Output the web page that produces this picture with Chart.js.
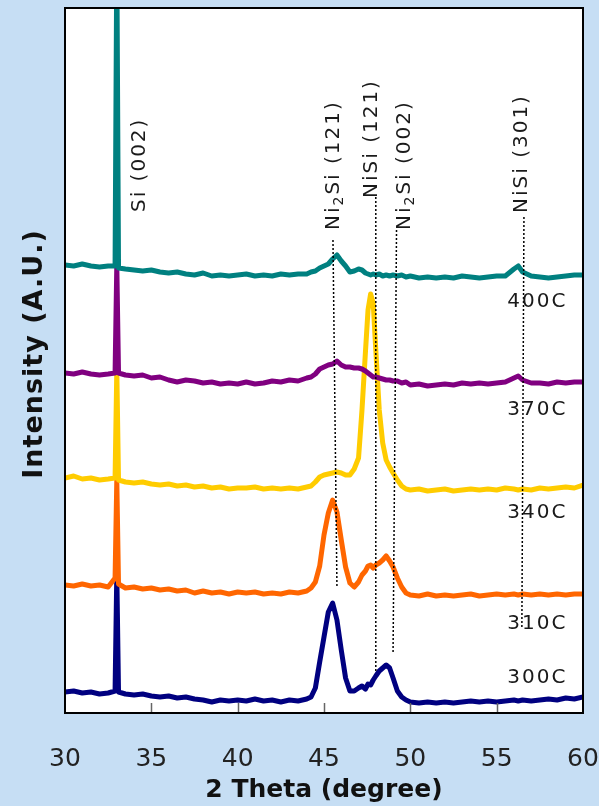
<!DOCTYPE html>
<html>
<head>
<meta charset="utf-8">
<script src="https://cdn.jsdelivr.net/npm/chart.js@4.4.1/dist/chart.umd.min.js"></script>
<style>
  html, body { margin: 0; padding: 0; background: #c6def4; }
  #wrap { width: 599px; height: 806px; position: relative; }
</style>
</head>
<body>
<div id="wrap"><canvas id="js--xrd"></canvas></div>
<script>
// 2 theta grid (degrees), shared by all scans
const theta = [30, 30.5, 31, 31.5, 32, 32.5, 32.9, 33, 33.1, 33.5, 34, 34.5, 35, 35.5, 36, 36.5, 37, 37.5, 38, 38.5,
  39, 39.5, 40, 40.5, 41, 41.5, 42, 42.5, 43, 43.5, 44, 44.25, 44.5, 44.75, 45, 45.25, 45.5, 45.75, 46, 46.25,
  46.5, 46.75, 47, 47.2, 47.4, 47.55, 47.7, 47.85, 48, 48.2, 48.4, 48.6, 48.8, 49, 49.25, 49.5, 49.75, 50, 50.5, 51,
  51.5, 52, 52.5, 53, 53.5, 54, 54.5, 55, 55.5, 56, 56.25, 56.5, 57, 57.5, 58, 58.5, 59, 59.5, 60];

// intensity (A.U., offset stacked)
const int300 = [21, 22, 20, 21, 19, 20, 22, 140, 21, 19, 18, 19, 17, 16, 17, 15, 16, 14, 13, 11,
  13, 12, 13, 12, 14, 12, 13, 11, 13, 12, 14, 16, 25, 51, 76, 101, 110, 93, 63, 35,
  22, 22, 25, 27, 24, 29, 28, 33, 37, 42, 45, 48, 45, 35, 22, 16, 13, 11, 10, 11,
  10, 11, 10, 11, 12, 11, 12, 11, 12, 13, 12, 13, 12, 13, 14, 13, 15, 14, 16];
const int310 = [128, 127, 129, 127, 128, 126, 135, 233, 129, 125, 126, 124, 125, 123, 124, 122, 123, 120, 122, 120,
  121, 119, 121, 120, 121, 119, 120, 119, 121, 120, 122, 125, 131, 147, 178, 200, 213, 201, 173, 146,
  130, 126, 131, 138, 142, 147, 148, 145, 148, 150, 153, 157, 152, 146, 135, 126, 120, 118, 117, 119,
  117, 118, 117, 118, 119, 117, 118, 119, 118, 119, 118, 119, 118, 119, 118, 119, 118, 119, 119];
const int340 = [235, 237, 234, 235, 233, 234, 235, 343, 233, 231, 230, 231, 229, 228, 229, 227, 228, 226, 227, 225,
  226, 224, 225, 225, 226, 224, 225, 224, 225, 224, 226, 227, 231, 236, 238, 239, 240, 241, 240, 238,
  238, 244, 255, 303, 361, 403, 419, 410, 363, 303, 270, 253, 246, 240, 233, 227, 224, 223, 224, 222,
  223, 224, 222, 223, 224, 223, 224, 223, 225, 224, 223, 224, 223, 225, 224, 225, 226, 225, 228];
const int370 = [340, 339, 341, 339, 338, 339, 340, 448, 340, 338, 337, 338, 335, 336, 333, 331, 333, 332, 330, 331,
  329, 330, 329, 331, 329, 330, 332, 331, 333, 332, 335, 336, 339, 344, 346, 348, 349, 352, 348, 346,
  346, 345, 345, 344, 342, 340, 338, 336, 336, 335, 334, 333, 333, 332, 332, 330, 331, 328, 329, 327,
  328, 329, 328, 330, 329, 330, 329, 330, 331, 335, 337, 333, 330, 330, 329, 331, 330, 331, 331];
const int400 = [448, 447, 449, 447, 446, 447, 447, 760, 445, 444, 443, 442, 443, 441, 440, 441, 439, 438, 440, 437,
  438, 437, 438, 439, 437, 438, 437, 439, 438, 439, 439, 441, 442, 445, 447, 449, 454, 458, 452, 447,
  441, 442, 444, 443, 440, 439, 438, 439, 438, 439, 437, 438, 437, 438, 437, 438, 436, 437, 435, 436,
  435, 436, 435, 437, 436, 435, 436, 437, 437, 444, 447, 441, 437, 436, 435, 436, 437, 438, 438];

const tempLabels = ['300C', '310C', '340C', '370C', '400C'];
const tempLabelY = [38, 92, 203, 306, 414];

// reference peak lines: [theta at top, theta at bottom], intensity top / bottom
const refTheta = [[45.52, 45.75], [48.0, 48.0], [49.2, 49.0], [56.58, 56.46]];
const refTop = [473, 516, 483, 496];
const refBottom = [126, 40, 61, 86];

// peak names, drawn vertically
const peakNames = [
  [{ t: 'Si (002)' }],
  [{ t: 'Ni' }, { t: '2', sub: true }, { t: 'Si (121)' }],
  [{ t: 'NiSi (121)' }],
  [{ t: 'Ni' }, { t: '2', sub: true }, { t: 'Si (002)' }],
  [{ t: 'NiSi (301)' }]
];
const peakNameTheta = [34.23, 45.46, 47.66, 49.57, 56.35];
const peakNameY = [501, 483, 515, 483, 500];

const FONT = "'DejaVu Sans', sans-serif";

function toPoints(ys) {
  return theta.map((t, i) => ({ x: t, y: ys[i] }));
}

const scans = [int400, int370, int340, int310, int300];
const scanColors = ['#008080', '#800080', '#ffcc00', '#ff6600', '#000080'];

const datasets = [];
refTheta.forEach((tt, i) => {
  datasets.push({
    data: [{ x: tt[0], y: refTop[i] }, { x: tt[1], y: refBottom[i] }],
    borderColor: '#000',
    borderWidth: 1.5,
    borderDash: [2, 2],
    pointRadius: 0
  });
});
scans.forEach((s, i) => {
  datasets.push({
    data: toPoints(s),
    borderColor: scanColors[i],
    borderWidth: 5,
    borderJoinStyle: 'round',
    borderCapStyle: 'round',
    pointRadius: 0,
    tension: 0
  });
});

const framePlugin = {
  id: 'frame',
  beforeDatasetsDraw(chart) {
    const { ctx, chartArea: a } = chart;
    ctx.save();
    ctx.fillStyle = '#ffffff';
    ctx.fillRect(a.left, a.top, a.right - a.left, a.bottom - a.top);
    ctx.restore();
  },
  afterDatasetsDraw(chart) {
    const { ctx, chartArea: a } = chart;
    const xs = chart.scales.x;
    const ys = chart.scales.y;

    // inward ticks
    ctx.save();
    ctx.strokeStyle = '#666';
    ctx.lineWidth = 1.5;
    xs.ticks.forEach(t => {
      if (t.value <= 30 || t.value >= 60) return;
      const px = Math.round(xs.getPixelForValue(t.value)) + 0.5;
      ctx.beginPath();
      ctx.moveTo(px, a.bottom);
      ctx.lineTo(px, a.bottom - 10);
      ctx.stroke();
    });
    // frame
    ctx.strokeStyle = '#000';
    ctx.lineWidth = 2;
    ctx.strokeRect(a.left, a.top, a.right - a.left, a.bottom - a.top);
    ctx.restore();

    ctx.save();
    ctx.fillStyle = '#1a1a1a';
    ctx.letterSpacing = '2px';

    // temperature labels
    ctx.font = '20px ' + FONT;
    ctx.textAlign = 'right';
    ctx.textBaseline = 'alphabetic';
    tempLabels.forEach((lab, i) => {
      ctx.fillText(lab, xs.getPixelForValue(59.1), ys.getPixelForValue(tempLabelY[i]) + 7.5);
    });

    // peak names, rotated
    ctx.textAlign = 'left';
    peakNames.forEach((parts, i) => {
      ctx.save();
      ctx.translate(xs.getPixelForValue(peakNameTheta[i]) + 7, ys.getPixelForValue(peakNameY[i]));
      ctx.rotate(-Math.PI / 2);
      let x = 0;
      parts.forEach(p => {
        ctx.font = (p.sub ? '14px ' : '20px ') + FONT;
        ctx.fillText(p.t, x, p.sub ? 4 : 0);
        x += ctx.measureText(p.t).width;
      });
      ctx.restore();
    });
    ctx.restore();

    // y axis title
    ctx.save();
    ctx.fillStyle = '#111';
    ctx.font = 'bold 27px ' + FONT;
    ctx.letterSpacing = '1px';
    ctx.textAlign = 'center';
    ctx.textBaseline = 'alphabetic';
    ctx.translate(42, 354);
    ctx.rotate(-Math.PI / 2);
    ctx.fillText('Intensity (A.U.)', 0, 0);
    ctx.restore();
  }
};

const ctx = document.getElementById('js--xrd');

if (ctx) {
  new Chart(ctx, {
    type: 'line',
    data: { datasets: datasets },
    options: {
      responsive: true,
      maintainAspectRatio: false,
      animation: false,
      devicePixelRatio: 1,
      layout: { padding: { left: 65, right: 16, top: 8, bottom: 4 } },
      scales: {
        x: {
          type: 'linear',
          min: 30,
          max: 60,
          grid: { display: false, drawTicks: false },
          border: { display: false },
          afterFit(scale) {
            scale.height = 89;
            scale.paddingLeft = 0;
            scale.paddingRight = 0;
          },
          ticks: {
            stepSize: 5,
            maxRotation: 0,
            padding: 31,
            color: '#222',
            font: { family: FONT, size: 25 }
          },
          title: {
            display: true,
            text: '2 Theta (degree)',
            color: '#111',
            padding: { top: 2, bottom: -3 },
            font: { family: FONT, size: 25, weight: 'bold' }
          }
        },
        y: { type: 'linear', min: 0, max: 705, display: false }
      },
      plugins: {
        legend: { display: false },
        tooltip: { enabled: false }
      }
    },
    plugins: [framePlugin]
  });
}
</script>
</body>
</html>
